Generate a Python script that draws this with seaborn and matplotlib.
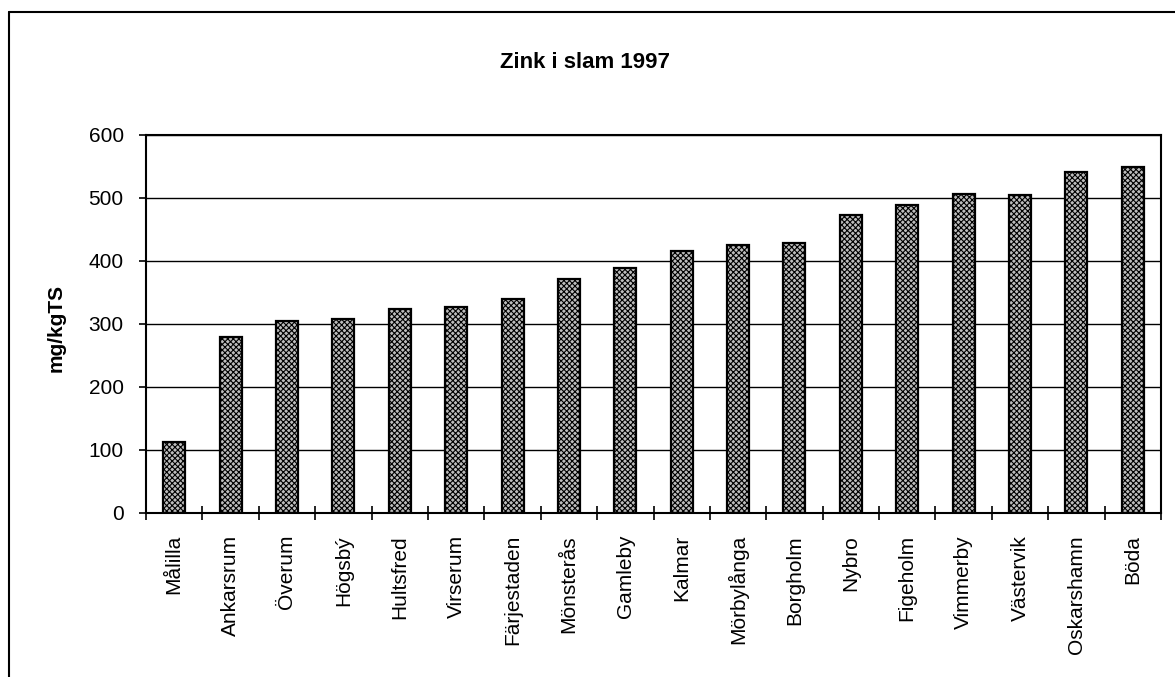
import matplotlib
matplotlib.use("Agg")
import matplotlib.pyplot as plt
import seaborn as sns
from matplotlib.lines import Line2D
from matplotlib.ticker import FixedLocator

categories = ["Målilla", "Ankarsrum", "Överum", "Högsbý", "Hultsfred", "Virserum",
              "Färjestaden", "Mönsterås", "Gamleby", "Kalmar", "Mörbylånga",
              "Borgholm", "Nybro", "Figeholm", "Vimmerby", "Västervik",
              "Oskarshamn", "Böda"]
values = [113, 279, 305, 308, 323, 326, 340, 371, 388, 416, 425, 429,
          473, 489, 506, 505, 541, 549]
y_ticks = [0, 100, 200, 300, 400, 500, 600]

sns.set_theme(style="white")
plt.rcParams['font.family'] = ['Liberation Sans', 'DejaVu Sans']
plt.rcParams['hatch.color'] = '#303030'
plt.rcParams['hatch.linewidth'] = 0.8
for k in ['text.color', 'axes.labelcolor', 'xtick.color', 'ytick.color']:
    plt.rcParams[k] = 'black'

fig = plt.figure(figsize=(11.75, 6.77), dpi=100)
ax = fig.add_axes([146/1175, 1-512.7/677, (1161-146)/1175, (512.7-135)/677])

sns.barplot(x=categories, y=values, color="#bdbdbd", width=0.39,
            edgecolor="black", linewidth=1.6, ax=ax, saturation=1)
for p in ax.patches:
    p.set_hatch("xxxxxx")

ax.set_ylim(0, 600)
ax.set_xlim(-0.5, len(categories) - 0.5)
ax.set_yticks(y_ticks)
ax.set_yticklabels([str(v) for v in y_ticks], fontsize=15)
ax.yaxis.grid(True, color="black", linewidth=1.0)
ax.set_axisbelow(True)

# category ticks at boundaries
ax.xaxis.set_major_locator(FixedLocator(range(len(categories))))
ax.set_xticklabels(categories, rotation=90, fontsize=15)
ax.tick_params(axis='x', which='major', length=0, pad=16)
ax.xaxis.set_minor_locator(FixedLocator([i - 0.5 for i in range(len(categories) + 1)]))
ax.tick_params(axis='x', which='minor', direction='inout', length=10, width=1.2,
               color='black', bottom=True)
ax.tick_params(axis='y', which='major', direction='out', length=5, width=1.2,
               color='black', left=True, pad=11)

for s in ax.spines.values():
    s.set_visible(True)
    s.set_color("black")
    s.set_linewidth(1.5)

ax.set_xlabel("")
ax.set_ylabel("mg/kgTS", fontsize=15, fontweight="bold")
ax.yaxis.set_label_coords((66-146)/1015, 0.49)

fig.text(585/1175, 1-62/677, "Zink i slam 1997", ha="center", va="center",
         fontsize=16, fontweight="bold")

# outer border (left and top)
fig.add_artist(Line2D([9/1175, 9/1175], [0, 1-12/677], transform=fig.transFigure,
                      color="black", linewidth=1.5))
fig.add_artist(Line2D([9/1175, 1], [1-12/677, 1-12/677], transform=fig.transFigure,
                      color="black", linewidth=1.5))

fig.savefig("out.png", dpi=100, facecolor="white")
